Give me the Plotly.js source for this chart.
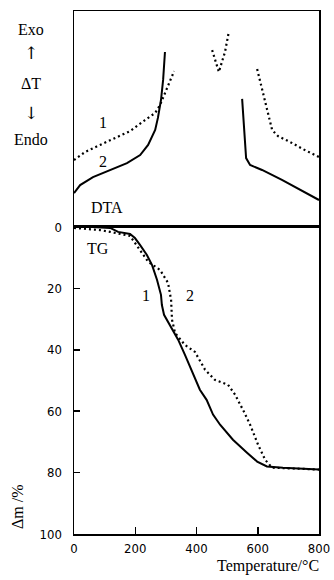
<!DOCTYPE html>
<html><head><meta charset="utf-8">
<script src="https://cdn.plot.ly/plotly-3.0.1.min.js"></script>
<style>html,body{margin:0;padding:0;background:#fff}#c{width:334px;height:580px}</style>
</head><body><div id="c"></div>
<script>
// DTA curves (arbitrary units 0-100), null = gap
const dtaSolidT = [0,20,62,118,173,216,242,265,274,284,291,297,null,549,562,575,614,679,738,800];
const dtaSolidY = [15.7,19.4,23.1,26.4,29.6,33.3,38.0,44.9,50.5,58.8,68.1,81.0,null,59.3,31.9,28.7,26.4,21.8,17.1,12.5];
const dtaDotT = [0,36,85,140,183,232,265,281,297,313,327,null,451,473,493,506,null,598,620,647,666,705,754,800];
const dtaDotY = [31.0,34.7,38.0,41.7,44.4,49.5,52.8,56.5,62.0,66.7,72.2,null,81.9,71.8,81.0,90.7,null,73.1,60.2,44.9,42.1,39.4,35.6,32.4];
// TG curves (mass loss %)
const tgSolidT = [0,59,118,144,183,199,216,238,255,271,284,287,294,313,340,362,389,411,433,454,477,519,565,598,630,682,800];
const tgSolidY = [0,0,0.3,1.6,2.3,3.6,5.9,9.1,12.4,17.2,22.1,25.4,28.6,31.9,36.7,41.6,48.1,53.0,56.3,61.1,64.4,69.3,73.5,76.4,78.0,78.4,79.0];
const tgDotT = [0,85,118,183,242,281,307,317,320,330,362,395,428,460,503,526,555,575,601,624,647,705,800];
const tgDotY = [0.3,1.0,1.6,2.9,11.3,14.0,18.2,23.7,30.2,34.5,38.4,40.7,46.5,49.8,51.4,54.6,60.2,64.4,70.9,75.8,78.4,78.7,79.0];
const xTicks = [0,200,400,600,800];
const yTicks = [0,20,40,60,80,100];

const solid = {color:'#000', width:2};
const dotted = {color:'#000', width:2.2, dash:'2px,3px'};
const traces = [
  {x:dtaSolidT, y:dtaSolidY, xaxis:'x2', yaxis:'y2', mode:'lines', line:solid, connectgaps:false},
  {x:dtaDotT, y:dtaDotY, xaxis:'x2', yaxis:'y2', mode:'lines', line:dotted, connectgaps:false},
  {x:tgSolidT, y:tgSolidY, xaxis:'x', yaxis:'y', mode:'lines', line:solid},
  {x:tgDotT, y:tgDotY, xaxis:'x', yaxis:'y', mode:'lines', line:dotted}
];
const serif = {family:'Liberation Serif, Times New Roman, serif', size:16, color:'#000'};
const tickFont = {family:'DejaVu Sans Condensed, sans-serif', size:13, color:'#000'};
function ann(text,x,y,extra){return Object.assign({text:text,xref:'paper',yref:'paper',x:x,y:y,showarrow:false,font:serif,xanchor:'center',yanchor:'middle'},extra||{});}
// paper coords: plot area x 74..319 (245px), y 11..534 (523px)
function px(X){return (X-74)/245;}
function py(Y){return (534-Y)/523;}
const arrowFont = {family:'DejaVu Serif, serif', size:17, color:'#000'};
const layout = {
  width:334, height:580, showlegend:false,
  margin:{l:74,r:15,t:11,b:46},
  paper_bgcolor:'#fff', plot_bgcolor:'#fff',
  xaxis:{domain:[0,1], anchor:'y', range:[0,800], tickvals:xTicks, ticktext:xTicks.map(String),
    ticks:'inside', ticklen:7, tickwidth:1.5, tickcolor:'#000', showline:true, mirror:true, linecolor:'#000', linewidth:1.5,
    showgrid:false, zeroline:false, tickfont:tickFont, ticklabelstandoff:2},
  yaxis:{domain:[0,0.587], anchor:'x', range:[100,0], tickvals:yTicks, ticktext:yTicks.map(String),
    ticks:'inside', ticklen:6, tickwidth:1.5, tickcolor:'#000', showline:true, mirror:true, linecolor:'#000', linewidth:1.5,
    showgrid:false, zeroline:false, tickfont:tickFont, ticklabelstandoff:8},
  xaxis2:{domain:[0,1], anchor:'y2', range:[0,800], showticklabels:false, ticks:'', showline:true, mirror:true,
    linecolor:'#000', linewidth:1.5, showgrid:false, zeroline:false},
  yaxis2:{domain:[0.587,1], anchor:'x2', range:[0,100], showticklabels:false, ticks:'', showline:true, mirror:true,
    linecolor:'#000', linewidth:1.5, showgrid:false, zeroline:false},
  annotations:[
    ann('Exo', px(31), py(29)),
    ann('↑', px(31), py(53), {font:arrowFont}),
    ann('ΔT', px(31), py(83)),
    ann('↓', px(31), py(113), {font:arrowFont}),
    ann('Endo', px(31), py(139)),
    ann('1', px(103), py(123)),
    ann('2', px(103), py(161)),
    ann('DTA', px(107), py(207)),
    ann('TG', px(98), py(249)),
    ann('1', px(146), py(295)),
    ann('2', px(190), py(295)),
    ann('Temperature/°C', px(268), py(566)),
    ann('Δm /%', px(17), py(507), {textangle:-90})
  ]
};
Plotly.newPlot('c', traces, layout, {staticPlot:true, displayModeBar:false});
</script></body></html>
